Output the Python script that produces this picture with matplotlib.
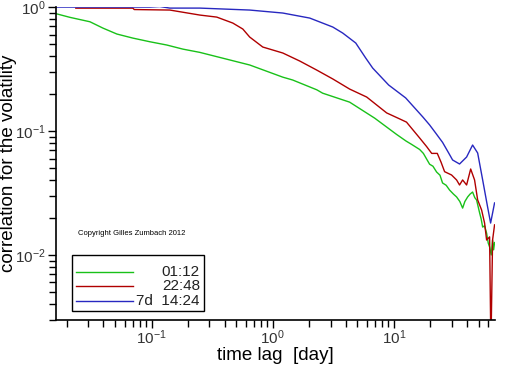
import matplotlib
matplotlib.use('Agg')
import matplotlib.pyplot as plt
import numpy as np

plt.rcParams['font.family'] = ['Liberation Sans', 'DejaVu Sans']
plt.rcParams['mathtext.fontset'] = 'custom'
plt.rcParams['mathtext.rm'] = 'Liberation Sans'
plt.rcParams['mathtext.it'] = 'Liberation Sans:italic'
plt.rcParams['mathtext.bf'] = 'Liberation Sans:bold'

# time lag [day] and correlation values
lag_green = [0.0162, 0.0212, 0.031, 0.0396, 0.0517, 0.070, 0.0968, 0.1336, 0.181, 0.25,
             0.645, 1.21, 1.46, 2.31, 2.58, 4.31, 6.94, 10.5, 12.6, 14.0, 16.3,
             17.5, 19.7, 21.0, 22.5, 24.0, 25.2, 27.0, 28.8, 31.0, 32.9, 35.0,
             36.9, 38.5, 40.6, 42.5, 44.6, 46.5, 48.1, 51.0, 52.5, 54.0, 56.0,
             58.2, 60.0, 61.6, 63.5, 65.2, 66.5, 67.7]
corr_green = [0.885, 0.826, 0.761, 0.677, 0.606, 0.562, 0.525, 0.494, 0.458, 0.431,
              0.341, 0.272, 0.258, 0.215, 0.202, 0.171, 0.127, 0.094, 0.083, 0.078, 0.071,
              0.066, 0.054, 0.052, 0.0467, 0.044, 0.0381, 0.0365, 0.0334, 0.031, 0.0294, 0.027,
              0.0239, 0.027, 0.0294, 0.031, 0.0322, 0.029, 0.0278, 0.0218, 0.0195, 0.0168, 0.0172,
              0.0150, 0.0125, 0.0116, 0.0100, 0.0132, 0.0110, 0.0126]

lag_red = [0.0237, 0.07, 0.072, 0.1415, 0.188, 0.25, 0.345, 0.468, 0.566, 0.645,
           0.827, 1.21, 1.67, 2.31, 3.13, 4.31, 5.96, 8.71, 11.2, 12.7, 16.3,
           18.6, 20.5, 22.8, 24.5, 26.2, 29.9, 32.9, 34.8, 36.9, 39.8, 43.0,
           46.3, 49.1, 52.9, 56.0, 58.2, 61.6, 62.9, 63.5, 65.2, 67.7]
corr_red = [0.98, 0.98, 0.955, 0.946, 0.903, 0.862, 0.83, 0.743, 0.665, 0.573,
            0.476, 0.426, 0.367, 0.31, 0.263, 0.218, 0.188, 0.14, 0.125, 0.118, 0.0879,
            0.075, 0.066, 0.066, 0.056, 0.047, 0.0442, 0.0403, 0.0367, 0.0403, 0.0367, 0.0494,
            0.0403, 0.0278, 0.0231, 0.0181, 0.0132, 0.014, 0.0025, 0.0025, 0.0132, 0.0175]

lag_blue = [0.0162, 0.0968, 0.117, 0.1415, 0.25, 0.645, 1.21, 2.02, 3.13, 3.78,
            4.84, 5.85, 6.68, 9.05, 12.5, 17.3, 19.7, 22.1, 25.2, 28.3, 30.5,
            34.8, 39.8, 44.6, 49.1, 54.0, 59.3, 62.8, 65.2, 67.7]
corr_blue = [1.0, 1.0, 1.01, 0.981, 0.981, 0.946, 0.895, 0.815, 0.69, 0.617,
             0.513, 0.388, 0.322, 0.235, 0.185, 0.13, 0.112, 0.0964, 0.081, 0.0665, 0.0584,
             0.0542, 0.0617, 0.0771, 0.0665, 0.0403, 0.0244, 0.0181, 0.0218, 0.0263]

labels = ['01:12', '22:48', '7d  14:24']
colors = ['#19c119', '#b00000', '#2828c0']

fig = plt.figure(figsize=(5.12, 3.66), dpi=100)
ax = fig.add_axes([0.109, 0.1257, 0.858, 0.855])

ax.plot(lag_green, corr_green, color=colors[0], lw=1.0)
ax.plot(lag_red, corr_red, color=colors[1], lw=1.0)
ax.plot(lag_blue, corr_blue, color=colors[2], lw=1.0)

ax.set_xscale('log')
ax.set_yscale('log')
ax.set_xlim(0.0162, 68.4)
ax.set_ylim(0.00299, 1.0)

for s in ['top', 'right']:
    ax.spines[s].set_visible(False)
for s in ['left', 'bottom']:
    ax.spines[s].set_linewidth(1.2)

ax.tick_params(which='major', direction='out', length=6, width=1, labelsize=11,
               labelcolor='#333333', pad=1)
ax.tick_params(axis='x', which='major', pad=0)
ax.tick_params(which='minor', direction='out', length=5, width=1)

ax.set_xlabel('time lag  [day]', fontsize=13.5)
ax.xaxis.set_label_coords(0.5, -0.087)
ax.set_ylabel('correlation for the volatility', fontsize=13.5)
ax.yaxis.set_label_coords(-0.088, 0.5)

ax.text(0.05, 0.275, 'Copyright Gilles Zumbach 2012', transform=ax.transAxes,
        fontsize=5.5, va='center', ha='left')

# legend box drawn by hand so the labels sit right-aligned
box = plt.Rectangle((0.036, 0.029), 0.301, 0.179, transform=ax.transAxes,
                    fill=False, lw=1.0, edgecolor='black')
ax.add_patch(box)
for i, (lab, c) in enumerate(zip(labels, colors)):
    yy = 0.154 - i * 0.046
    ax.plot([0.0456, 0.175], [yy, yy], color=c, lw=1.0, transform=ax.transAxes)
    ax.text(0.328, yy, lab, transform=ax.transAxes, ha='right', va='center',
            fontsize=11, color='#222222')

fig.savefig('out.png', dpi=100)
